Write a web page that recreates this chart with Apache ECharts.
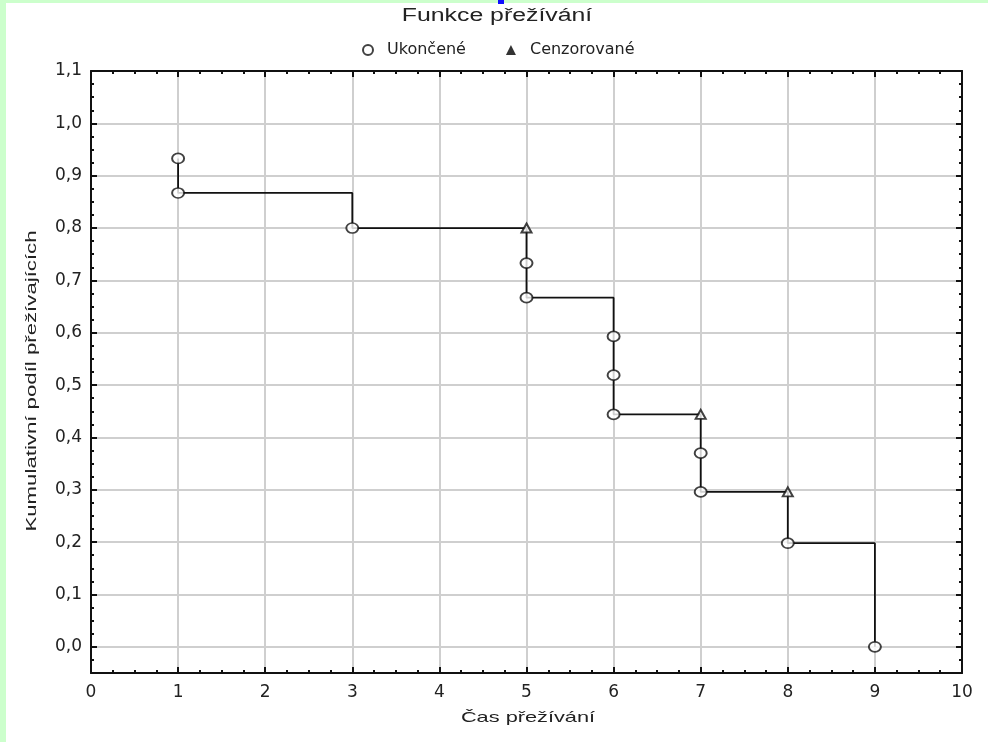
<!DOCTYPE html>
<html lang="cs">
<head>
    <meta charset="UTF-8">
    <title>Funkce přežívání</title>
    <style>
        html,body{
            width: 100%;
            height: 100%;
            margin: 0;
            padding: 0;
            background: #fff;
        }
        #chart{
            width: 988px;
            height: 742px;
        }
    </style>
</head>
<body>
    <div id="chart"></div>
    <script src="https://cdn.jsdelivr.net/npm/echarts@6/dist/echarts.min.js"></script>
    <script>
        // ukoncene (kolecka)
        var eventTimes = [1, 1, 3, 5, 5, 6, 6, 6, 7, 7, 8, 9];
        var eventValues = [0.933, 0.867, 0.8, 0.733, 0.667, 0.593, 0.519, 0.444, 0.37, 0.296, 0.198, 0.0];
        // cenzorovane (trojuhelniky)
        var censTimes = [5, 7, 8];
        var censValues = [0.8, 0.444, 0.296];

        var xTicks = [0, 1, 2, 3, 4, 5, 6, 7, 8, 9, 10];
        var yTicks = ['0,0', '0,1', '0,2', '0,3', '0,4', '0,5', '0,6', '0,7', '0,8', '0,9', '1,0', '1,1'];

        var font = '"Liberation Sans", Arial, sans-serif';
        var wideFont = '"DejaVu Sans", sans-serif';

        // schodovita cara: prvni bod, pak nejnizsi hodnota v kazdem case
        var stepData = [[eventTimes[0], eventValues[0]]];
        for (var i = 0; i < eventTimes.length; i++) {
            var last = (i === eventTimes.length - 1) || eventTimes[i + 1] !== eventTimes[i];
            if (last) stepData.push([eventTimes[i], eventValues[i]]);
        }

        var chart = echarts.init(document.getElementById('chart'));

        function frameAxis(pos, isX) {
            var a = {
                type: 'value',
                position: pos,
                min: isX ? xTicks[0] : -0.05,
                max: isX ? xTicks[xTicks.length - 1] : 1.1,
                axisLine: { show: true, onZero: false, lineStyle: { color: '#111', width: 2 } },
                axisTick: { show: true, inside: true, length: 6, lineStyle: { color: '#111', width: 2 } },
                minorTick: { show: true, inside: true, splitNumber: 4, length: 3, lineStyle: { color: '#111', width: 2 } },
                axisLabel: { show: false },
                splitLine: { show: false }
            };
            if (isX) a.interval = 1; else a.splitNumber = 11;
            return a;
        }

        var xMain = frameAxis('bottom', true);
        xMain.axisLabel = { show: true, margin: 11, fontFamily: wideFont, fontSize: 17, color: '#222',
            formatter: function (v) { return String(v); } };
        xMain.splitLine = { show: true, lineStyle: { color: '#cfcfcf', width: 2 } };

        var yMain = frameAxis('left', false);
        yMain.axisLabel = { show: true, showMinLabel: false, margin: 9, fontFamily: wideFont, fontSize: 17, color: '#222',
            formatter: function (v) {
                var k = Math.round(v * 10);
                if (Math.abs(v * 10 - k) > 1e-6 || k < 0) return '';
                return yTicks[k];
            } };
        yMain.splitLine = { show: true, lineStyle: { color: '#cfcfcf', width: 2 } };

        // texty roztazene do sirky jako v originale
        function wideText(txt, x, y, size, sx, rot) {
            return {
                type: 'text', x: x, y: y, scaleX: sx, rotation: rot || 0, z: 10,
                style: { text: txt, font: size + 'px ' + font, fill: '#222',
                    align: 'center', verticalAlign: 'middle', textAlign: 'center', textVerticalAlign: 'middle' }
            };
        }

        var option = {
            backgroundColor: '#fff',
            animation: false,
            legend: {
                top: 37,
                left: 357,
                itemGap: 40,
                itemWidth: 10,
                itemHeight: 10,
                textStyle: { fontFamily: wideFont, fontSize: 16, color: '#222', padding: [0, 0, 0, 9] },
                data: [
                    { name: 'Ukončené', icon: 'circle' },
                    { name: 'Cenzorované', icon: 'triangle', itemStyle: { color: '#000', borderWidth: 0 } }
                ]
            },
            grid: { left: 91, right: 26, top: 71, bottom: 69, containLabel: false },
            xAxis: [xMain, frameAxis('top', true)],
            yAxis: [yMain, frameAxis('right', false)],
            graphic: [
                { type: 'rect', left: 0, top: 0, shape: { width: 6, height: 742 }, style: { fill: '#ccffcc' } },
                { type: 'rect', left: 0, top: 0, shape: { width: 988, height: 3 }, style: { fill: '#ccffcc' } },
                { type: 'rect', left: 498, top: 0, shape: { width: 6, height: 4 }, style: { fill: '#1010ff' } },
                wideText('Funkce přežívání', 497, 16, 18, 1.38),
                wideText('Čas přežívání', 528, 718, 15, 1.45),
                wideText('Kumulativní podíl přežívajících', 32, 381, 15, 1.48, Math.PI / 2)
            ],
            series: [
                {
                    name: 'linka',
                    type: 'line',
                    step: 'end',
                    showSymbol: false,
                    symbol: 'none',
                    z: 2,
                    lineStyle: { color: '#111', width: 1.8 },
                    data: stepData
                },
                {
                    name: 'Ukončené',
                    type: 'scatter',
                    symbol: 'circle',
                    symbolSize: [12, 10],
                    z: 3,
                    itemStyle: { color: '#fff', borderColor: '#111', borderWidth: 1.8 },
                    data: eventTimes.map(function (t, i) { return [t, eventValues[i]]; })
                },
                {
                    name: 'Cenzorované',
                    type: 'scatter',
                    symbol: 'triangle',
                    symbolSize: [10, 9],
                    z: 3,
                    itemStyle: { color: '#fff', borderColor: '#111', borderWidth: 2 },
                    data: censTimes.map(function (t, i) { return [t, censValues[i]]; })
                }
            ]
        };
        chart.setOption(option);
    </script>
</body>
</html>
